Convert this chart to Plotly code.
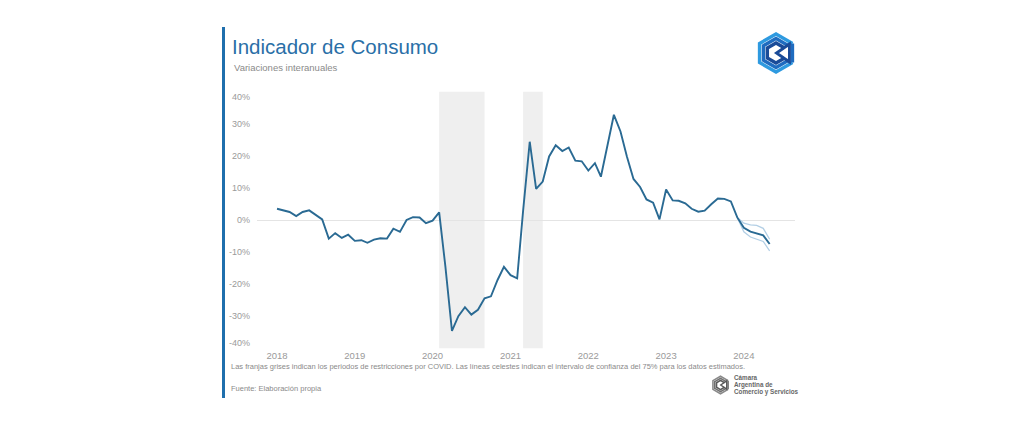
import pandas as pd
import plotly.graph_objects as go

# la pagina tiene 8px de margen en el body
OFF = 8
W, H = 1024 - OFF, 424 - OFF

# datos mensuales, variacion interanual (%)
meses = pd.date_range("2018-01-01", "2024-05-01", freq="MS")
consumo = [
    3.5, 3.1, 2.5, 1.2, 2.5, 3.0, 1.5, 0.2, -5.8, -4.1, -5.6, -4.6,
    -6.5, -6.3, -7.1, -6.1, -5.7, -5.8, -2.7, -3.7, 0.0, 0.9, 0.8, -1.0,
    -0.2, 2.4, -14.4, -34.6, -30.0, -27.2, -29.5, -28.0, -24.4, -23.8, -18.7, -14.6,
    -17.2, -18.2, 2.9, 24.4, 9.7, 12.0, 19.8, 23.3, 21.5, 22.6, 18.5, 18.3,
    15.4, 17.7, 13.5, 23.2, 32.8, 27.6, 19.8, 12.8, 10.3, 6.4, 5.4, 0.2,
    9.5, 6.1, 6.0, 5.2, 3.5, 2.6, 2.9, 4.9, 6.7, 6.6, 5.8, 0.8,
    -2.4, -3.6, -4.1, -4.8, -7.5,
]

# intervalo de confianza 75% (datos estimados)
meses_ic = pd.date_range("2023-12-01", "2024-05-01", freq="MS")
ic_sup = [0.8, -1.0, -1.5, -1.7, -2.6, -6.0]
ic_inf = [0.8, -3.7, -5.3, -6.0, -6.7, -9.6]

# franjas COVID
covid_ini = ["2020-02-01", "2021-03-01"]
covid_fin = ["2020-09-01", "2021-06-01"]

anios = ["2018-01-01", "2019-01-01", "2020-01-01", "2021-01-01",
         "2022-01-01", "2023-01-01", "2024-01-01"]
anios_txt = ["2018", "2019", "2020", "2021", "2022", "2023", "2024"]
y_ticks = [40, 30, 20, 10, 0, -10, -20, -30, -40]
y_txt = ["40%", "30%", "20%", "10%", "0%", "-10%", "-20%", "-30%", "-40%"]

FONT = "Liberation Sans, Arial, sans-serif"
GRIS = "#9a9a9a"


def px(x):
    return (x - OFF) / W


def py(y):
    return 1 - (y - OFF) / H


def path(points, close=False):
    s = "M " + " L ".join(f"{px(x):.5f},{py(y):.5f}" for x, y in points)
    return s + (" Z" if close else "")


def hex_c(cx, cy, r):
    # hexagono abierto a la derecha
    k = 0.866 * r
    return [(cx + k, cy - r / 2), (cx, cy - r), (cx - k, cy - r / 2),
            (cx - k, cy + r / 2), (cx, cy + r), (cx + k, cy + r / 2)]


def logo(cx, cy, s, colores, ancho):
    shp = []
    for rr, col in zip([19, 14.5, 10], colores):
        shp.append(dict(type="path", xref="paper", yref="paper",
                        path=path(hex_c(cx, cy, rr * s)),
                        line=dict(color=col, width=ancho), layer="above"))
    k = 0.866 * 19 * s
    shp.append(dict(type="path", xref="paper", yref="paper",
                    path=path([(cx + k, cy - 9.5 * s), (cx + k, cy + 9.5 * s)]),
                    line=dict(color=colores[1], width=ancho), layer="above"))
    shp.append(dict(type="path", xref="paper", yref="paper",
                    path=path([(cx + k - 3 * s, cy - 9 * s), (cx + 0.5 * s, cy),
                               (cx + k - 3 * s, cy + 9 * s)], close=True),
                    line=dict(color=colores[2], width=ancho * 0.85), layer="above"))
    return shp


fig = go.Figure()

fig.add_trace(go.Scatter(x=meses_ic, y=ic_sup, mode="lines",
                         line=dict(color="#b3cfe5", width=1.3), hoverinfo="skip"))
fig.add_trace(go.Scatter(x=meses_ic, y=ic_inf, mode="lines",
                         line=dict(color="#b3cfe5", width=1.3), hoverinfo="skip"))
fig.add_trace(go.Scatter(x=meses, y=consumo, mode="lines",
                         line=dict(color="#2a6a93", width=1.9)))

shapes = []
for a, b in zip(covid_ini, covid_fin):
    shapes.append(dict(type="rect", xref="x", yref="y domain", x0=a, x1=b,
                       y0=0, y1=1, fillcolor="#efefef", line=dict(width=0),
                       layer="below"))

# barra azul a la izquierda
shapes.append(dict(type="rect", xref="paper", yref="paper",
                   x0=px(222), x1=px(225), y0=py(398), y1=py(27),
                   fillcolor="#1f6fad", line=dict(width=0)))

shapes += logo(776, 53, 1.0, ["#2e9ae0", "#1f6cc0", "#1a4b98"], 3.4)
shapes += logo(720.5, 385, 0.46, ["#8a8a8a", "#6f6f6f", "#5a5a5a"], 1.6)

annotations = []
for v, t in zip(y_ticks, y_txt):
    shift = -5 if v == 40 else (5 if v == -40 else 0)
    annotations.append(dict(x=px(252), y=v, xref="paper", yref="y", text=t,
                            xanchor="right", yanchor="middle", yshift=shift,
                            showarrow=False, font=dict(size=9, color=GRIS)))

annotations += [
    dict(x=px(230), y=py(46), text="Indicador de Consumo",
         font=dict(size=20.5, color="#2a6fa7")),
    dict(x=px(231.5), y=py(67), text="Variaciones interanuales",
         font=dict(size=9.5, color="#8a8a8a")),
    dict(x=px(228.5), y=py(366),
         text="Las franjas grises indican los periodos de restricciones por COVID. "
              "Las líneas celestes indican el intervalo de confianza del 75% "
              "para los datos estimados.",
         font=dict(size=7.5, color="#8a8a8a")),
    dict(x=px(228.5), y=py(388), text="Fuente: Elaboración propia",
         font=dict(size=7.5, color="#8a8a8a")),
    dict(x=px(731.5), y=py(377.5), text="<b>Cámara</b>",
         font=dict(size=6.3, color="#666666")),
    dict(x=px(731.5), y=py(384.5), text="<b>Argentina de</b>",
         font=dict(size=6.3, color="#666666")),
    dict(x=px(731.5), y=py(391.5), text="<b>Comercio y Servicios</b>",
         font=dict(size=6.3, color="#666666")),
]
for a in annotations[len(y_ticks):]:
    a.update(xref="paper", yref="paper", xanchor="left", yanchor="middle",
             showarrow=False)

fig.update_layout(
    width=W, height=H,
    margin=dict(l=0, r=0, t=0, b=0),
    paper_bgcolor="white", plot_bgcolor="white",
    font=dict(family=FONT),
    showlegend=False,
    shapes=shapes,
    annotations=annotations,
    xaxis=dict(domain=[px(257), px(795)], type="date",
               range=["2017-09-29", "2024-08-28"],
               tickvals=anios, ticktext=anios_txt,
               tickfont=dict(size=9.5, color=GRIS),
               showgrid=False, zeroline=False, showline=False, ticks=""),
    yaxis=dict(domain=[py(348.3), py(91.7)], range=[-40, 40],
               showticklabels=False, showgrid=False, ticks="",
               zeroline=True, zerolinecolor="#e4e4e4", zerolinewidth=1),
)

fig.write_html("out.html")
